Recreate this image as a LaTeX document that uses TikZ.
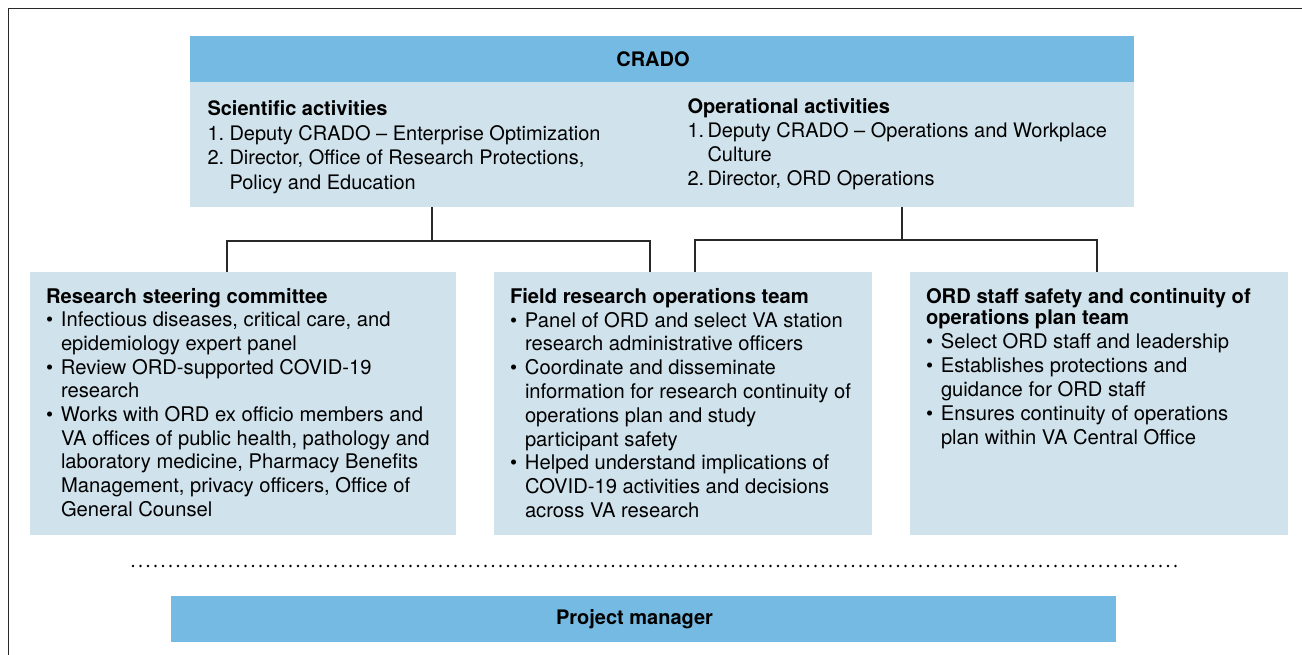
\documentclass[tikz,border=0pt]{standalone}
\usepackage{fontspec}
\setmainfont{TeX Gyre Heros}
\definecolor{hdrblue}{RGB}{116,186,226}
\definecolor{paleblue}{RGB}{208,226,236}
\definecolor{linegray}{RGB}{40,40,40}
% list helpers: bullet / number in a fixed-width slot, and hanging indent
\newcommand{\bulitem}{\makebox[15pt][l]{\textbullet}}
\newcommand{\numitem}[2]{\makebox[#1][l]{#2}}
\newcommand{\contin}[1]{\hspace*{#1}}
\begin{document}
\begin{tikzpicture}[x=1pt,y=-1pt,
  box/.style={fill=paleblue, draw=none, inner sep=0pt, outer sep=0pt, anchor=north west},
  headbox/.style={fill=hdrblue, draw=none, inner sep=0pt, outer sep=0pt, anchor=north west,
    font=\fontsize{20}{24}\selectfont\bfseries},
  txt/.style={anchor=base west, inner sep=0pt, outer sep=0pt, text=black},
  link/.style={draw=linegray, line width=1.2pt},
  frameline/.style={draw=linegray, line width=1.4pt},
  dotline/.style={draw=black, line width=2.7pt, line cap=round, dash pattern=on 0pt off 7.5pt}]
\useasboundingbox (0,0) rectangle (1302,655);

% outer frame (top and left edges)
\draw[frameline] (8.5,655) -- (8.5,8.5) -- (1302,8.5);

% CRADO block
\node[headbox, minimum width=944pt, minimum height=46pt] (cradohead) at (190,36)
  {CRADO\hspace*{18pt}};
\node[box, minimum width=944pt, minimum height=125pt] (cradobody) at (190,82) {};
\node[txt, font=\fontsize{20}{24.5}\selectfont] (sci) at (207.5,116)
  {\begin{tabular}[t]{@{}l@{}}
   \textbf{Scientific activities}\\
   \numitem{22pt}{1.}Deputy CRADO – Enterprise Optimization\\
   \numitem{22pt}{2.}Director, Office of Research Protections,\\
   \contin{22pt}Policy and Education
   \end{tabular}};
\node[txt, font=\fontsize{20}{24}\selectfont] (ops) at (687.5,113.3)
  {\begin{tabular}[t]{@{}l@{}}
   \textbf{Operational activities}\\
   \numitem{20pt}{1.}Deputy CRADO – Operations and Workplace\\
   \contin{20pt}Culture\\
   \numitem{20pt}{2.}Director, ORD Operations
   \end{tabular}};

% team boxes
\node[box, minimum width=426pt, minimum height=263pt] (rsc) at (30,272) {};
\node[box, minimum width=378pt, minimum height=263pt] (fro) at (494,272) {};
\node[box, minimum width=378pt, minimum height=263pt] (ord) at (910,272) {};

\node[txt, font=\fontsize{20.2}{23.7}\selectfont] (rsctext) at (46,303)
  {\begin{tabular}[t]{@{}l@{}}
   \textbf{Research steering committee}\\
   \bulitem Infectious diseases, critical care, and\\
   \contin{15pt}epidemiology expert panel\\
   \bulitem Review ORD-supported COVID-19\\
   \contin{15pt}research\\
   \bulitem Works with ORD ex officio members and\\
   \contin{15pt}VA offices of public health, pathology and\\
   \contin{15pt}laboratory medicine, Pharmacy Benefits\\
   \contin{15pt}Management, privacy officers, Office of\\
   \contin{15pt}General Counsel
   \end{tabular}};

\node[txt, font=\fontsize{20.2}{23.8}\selectfont] (frotext) at (510,303.3)
  {\begin{tabular}[t]{@{}l@{}}
   \textbf{Field research operations team}\\
   \bulitem Panel of ORD and select VA station\\
   \contin{15pt}research administrative officers\\
   \bulitem Coordinate and disseminate\\
   \contin{15pt}information for research continuity of\\
   \contin{15pt}operations plan and study\\
   \contin{15pt}participant safety\\
   \bulitem Helped understand implications of\\
   \contin{15pt}COVID-19 activities and decisions\\
   \contin{15pt}across VA research
   \end{tabular}};

\node[txt, font=\fontsize{20.2}{24}\selectfont] (ordtext) at (926,303.3)
  {\begin{tabular}[t]{@{}l@{}}
   \textbf{ORD staff safety and continuity of}\\[-3pt]
   \textbf{operations plan team}\\
   \bulitem Select ORD staff and leadership\\
   \bulitem Establishes protections and\\
   \contin{15pt}guidance for ORD staff\\
   \bulitem Ensures continuity of operations\\
   \contin{15pt}plan within VA Central Office
   \end{tabular}};

% junction and drop points of the connectors
\coordinate (jsci) at (432,241);
\coordinate (jops) at (902,240);
\coordinate (drsc) at (227,241);
\coordinate (dfroa) at (650,241);
\coordinate (dfrob) at (695,240);
\coordinate (dord) at (1097,240);

\draw[link] (cradobody.south -| jsci) -- (jsci);
\draw[link] (drsc |- rsc.north) -- (drsc) -- (dfroa) -- (dfroa |- fro.north);
\draw[link] (cradobody.south -| jops) -- (jops);
\draw[link] (dfrob |- fro.north) -- (dfrob) -- (dord) -- (dord |- ord.north);

% dotted separator
\coordinate (sepl) at (133,566);
\coordinate (sepr) at (1182,566);
\draw[dotline] (sepl) -- (sepr);

% project manager bar
\node[headbox, minimum width=945pt, minimum height=46pt] (pm) at (171,596)
  {Project manager\hspace*{18pt}};
\end{tikzpicture}
\end{document}
